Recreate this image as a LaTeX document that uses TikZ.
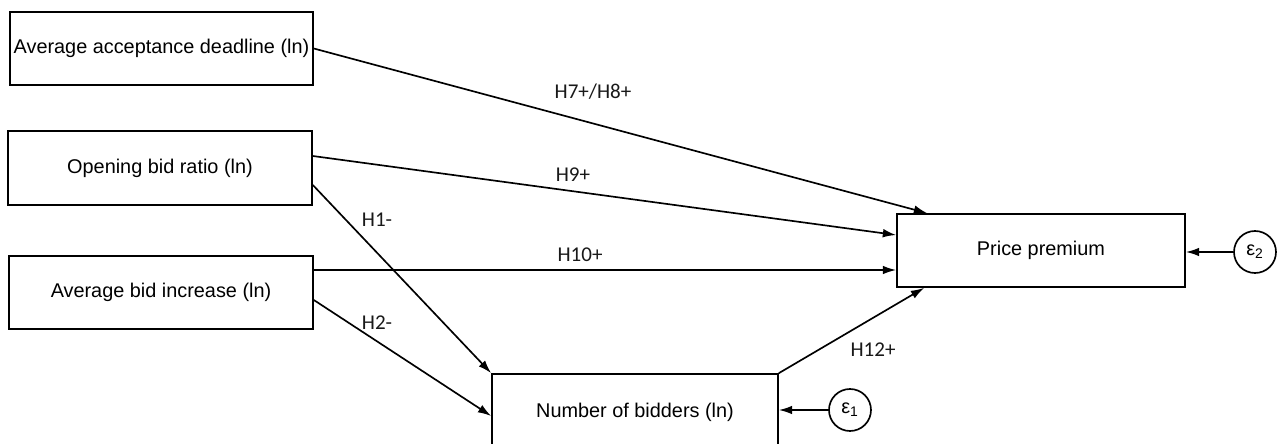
\documentclass[tikz,border=0pt]{standalone}
\usepackage{fontspec}
\setmainfont{Liberation Sans}
\newfontfamily\hypfont{Carlito}
\usetikzlibrary{arrows.meta,calc}
\tikzset{
  var/.style={draw, line width=1.25pt, rectangle, inner sep=0pt, font=\fontsize{14.9}{17}\selectfont},
  err/.style={draw, line width=1.25pt, circle, minimum size=31.5pt, inner sep=0pt, font=\fontsize{14.9}{17}\selectfont},
  hyp/.style={font=\hypfont\fontsize{15.8}{18}\selectfont, text=black!90},
  arr/.style={-{Latex[length=10pt,width=6.5pt]}, line width=1.25pt}
}
\begin{document}
\begin{tikzpicture}[x=0.75pt,y=-0.75pt]
\useasboundingbox (0,0) rectangle (1286,443);
\clip (0,0) rectangle (1286,443);
% variables
\node[var, minimum width=227.25pt, minimum height=54.75pt] (A) at (161.5,48.5) {Average acceptance deadline (ln)};
\node[var, minimum width=228pt, minimum height=55.5pt] (O) at (160,168) {Opening bid ratio (ln)};
\node[var, minimum width=228pt, minimum height=54.75pt] (I) at (161,292.5) {Average bid increase (ln)};
\node[var, minimum width=216pt, minimum height=54.75pt] (P) at (1041,250.5) {Price premium};
\node[var, minimum width=214.5pt, minimum height=57pt] (B) at (635,412) {Number of bidders (ln)};
% error terms
\node[err] (e2) at (1255,252) {ε\textsubscript{2}};
\node[err] (e1) at (850,410) {ε\textsubscript{1}};
% paths
\coordinate (P10) at ($(P.west)+(0,19.5)$);
\draw[arr] (A.east) -- ($(P.north west)+(31,0)$);
\draw[arr] ($(O.east)+(0,-12)$) -- ($(P.west)+(0,-15.5)$);
\draw[arr] ($(O.east)+(0,17)$) -- (B.north west);
\draw[arr] (I.east |- P10) -- (P10);
\draw[arr] ($(I.east)+(0,7.5)$) -- ($(B.west)+(0,4)$);
\draw[arr] (B.north east) -- ($(P.south west)+(28,0)$);
\draw[arr] (e2) -- (P.east |- e2);
\draw[arr] (e1) -- (B.east |- e1);
% hypotheses
\node[hyp] (h7) at (593,92) {H7+/H8+};
\node[hyp] (h9) at (573,175) {H9+};
\node[hyp] (h1) at (377,220) {H1-};
\node[hyp] (h10) at (580,255) {H10+};
\node[hyp] (h2) at (377,323) {H2-};
\node[hyp] (h12) at (873,350) {H12+};
\end{tikzpicture}
\end{document}
